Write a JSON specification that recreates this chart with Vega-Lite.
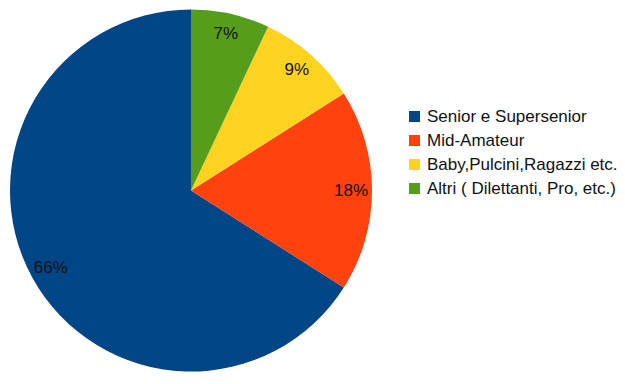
{
  "$schema": "https://vega.github.io/schema/vega-lite/v6.json",
  "width": 382,
  "height": 381,
  "padding": {"left": 0, "top": 0, "right": 243, "bottom": 3},
  "autosize": "none",
  "background": "white",
  "view": {"stroke": null},
  "data": {"values": [
    {"category": "Senior e Supersenior", "value": 66, "label": "66%", "ord": 4},
    {"category": "Mid-Amateur", "value": 18, "label": "18%", "ord": 3},
    {"category": "Baby,Pulcini,Ragazzi etc.", "value": 9, "label": "9%", "ord": 2},
    {"category": "Altri ( Dilettanti, Pro, etc.)", "value": 7, "label": "7%", "ord": 1}
  ]},
  "encoding": {
    "theta": {"field": "value", "type": "quantitative", "stack": true},
    "order": {"field": "ord", "type": "quantitative"}
  },
  "layer": [
    {
      "mark": {"type": "arc", "outerRadius": 181},
      "encoding": {
        "color": {
          "field": "category", "type": "nominal",
          "scale": {
            "domain": ["Senior e Supersenior", "Mid-Amateur", "Baby,Pulcini,Ragazzi etc.", "Altri ( Dilettanti, Pro, etc.)"],
            "range": ["#004586", "#ff420e", "#ffd320", "#579d1c"]
          },
          "legend": {
            "title": null,
            "orient": "none",
            "legendX": 406,
            "legendY": 108,
            "symbolType": "square",
            "symbolSize": 121,
            "symbolStrokeWidth": 0,
            "labelFont": "Liberation Sans",
            "labelFontSize": 17,
            "labelColor": "#111111",
            "labelOffset": 4,
            "rowPadding": 6,
            "labelLimit": 300
          }
        }
      }
    },
    {
      "mark": {"type": "text", "radius": 160, "font": "Liberation Sans", "fontSize": 17, "color": "#111111"},
      "encoding": {"text": {"field": "label"}}
    }
  ]
}
